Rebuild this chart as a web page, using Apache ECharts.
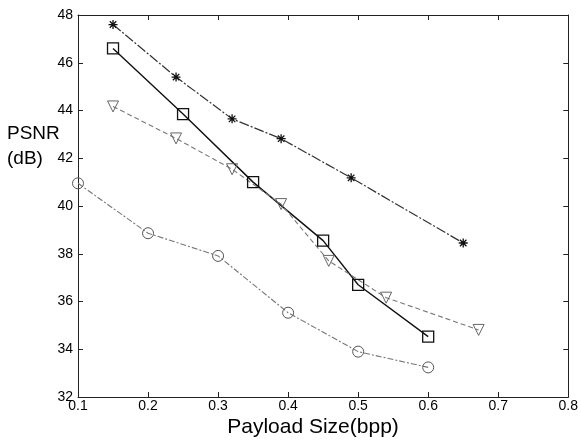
<!DOCTYPE html>
<html><head><meta charset="utf-8">
<script src="https://cdn.jsdelivr.net/npm/echarts@6/dist/echarts.min.js"></script>
<style>html,body{margin:0;padding:0;background:#fff}#c{width:581px;height:442px}</style>
</head><body><div id="c"></div>
<script>
const xTicks = [0.1,0.2,0.3,0.4,0.5,0.6,0.7,0.8];
const yTicks = [32,34,36,38,40,42,44,46,48];
const starX = [0.15,0.24,0.32,0.39,0.49,0.65];
const starY = [47.6,45.4,43.65,42.82,41.18,38.45];
const squareX = [0.15,0.25,0.35,0.45,0.50,0.60];
const squareY = [46.6,43.85,41.0,38.55,36.7,34.53];
const triX = [0.15,0.24,0.32,0.39,0.458,0.54,0.672];
const triY = [44.17,42.83,41.54,40.08,37.7,36.16,34.81];
const circX = [0.10,0.20,0.30,0.40,0.50,0.60];
const circY = [40.95,38.86,37.91,35.53,33.9,33.24];

const pairs = (xs, ys) => xs.map((x, i) => [x, ys[i]]);
const font = 'Liberation Sans';
const chart = echarts.init(document.getElementById('c'));
const axisCommon = {
  axisLine: {show: true, lineStyle: {color: '#222', width: 1}},
  axisTick: {show: true, inside: true, length: 5, lineStyle: {color: '#222'}},
  splitLine: {show: false}
};
const asterisk = 'path://M0,-5L0,5M-5,0L5,0M-3.6,-3.6L3.6,3.6M-3.6,3.6L3.6,-3.6';
chart.setOption({
  animation: false,
  backgroundColor: '#fff',
  grid: {left: 78, right: 12, top: 15, bottom: 45},
  xAxis: [
    Object.assign({type: 'value', min: 0.1, max: 0.8, interval: 0.1, position: 'bottom',
      axisLabel: {fontFamily: font, fontSize: 14, color: '#000', margin: 2,
        formatter: v => xTicks.includes(Math.round(v*10)/10) ? (Math.round(v*10)/10).toFixed(1) : ''}}, axisCommon),
    Object.assign({type: 'value', min: 0.1, max: 0.8, interval: 0.1, position: 'top', axisLabel: {show: false}}, axisCommon)
  ],
  yAxis: [
    Object.assign({type: 'value', min: 32, max: 48, interval: 2, position: 'left',
      axisLabel: {fontFamily: font, fontSize: 14, color: '#000', margin: 5,
        formatter: v => yTicks.includes(v) ? String(v) : ''}}, axisCommon),
    Object.assign({type: 'value', min: 32, max: 48, interval: 2, position: 'right', axisLabel: {show: false}}, axisCommon)
  ],
  graphic: [
    {type: 'text', left: 7, top: 124, style: {text: 'PSNR', fontFamily: font, fontSize: 19, fill: '#000'}},
    {type: 'text', left: 7, top: 149, style: {text: '(dB)', fontFamily: font, fontSize: 19, fill: '#000'}},
    {type: 'text', x: 313, y: 417, style: {text: 'Payload Size(bpp)', fontFamily: font, fontSize: 21, fill: '#000', align: 'center', verticalAlign: 'top'}}
  ],
  series: [
    {type: 'line', data: pairs(starX, starY), symbol: asterisk, symbolSize: 9,
      lineStyle: {color: '#333', width: 1.2, type: [10, 2, 2, 2]},
      itemStyle: {color: 'transparent', borderColor: '#111', borderWidth: 1.3}},
    {type: 'line', data: pairs(squareX, squareY), symbol: 'rect', symbolSize: 11,
      lineStyle: {color: '#111', width: 1.4},
      itemStyle: {color: 'transparent', borderColor: '#111', borderWidth: 1.3}},
    {type: 'line', data: pairs(triX, triY), symbol: 'triangle', symbolRotate: 180, symbolSize: 11,
      lineStyle: {color: '#777', width: 1.1, type: [5, 3]},
      itemStyle: {color: 'transparent', borderColor: '#666', borderWidth: 1}},
    {type: 'line', data: pairs(circX, circY), symbol: 'circle', symbolSize: 11,
      lineStyle: {color: '#777', width: 1.1, type: [6, 2, 2, 2]},
      itemStyle: {color: 'transparent', borderColor: '#555', borderWidth: 1}}
  ]
});
</script></body></html>
